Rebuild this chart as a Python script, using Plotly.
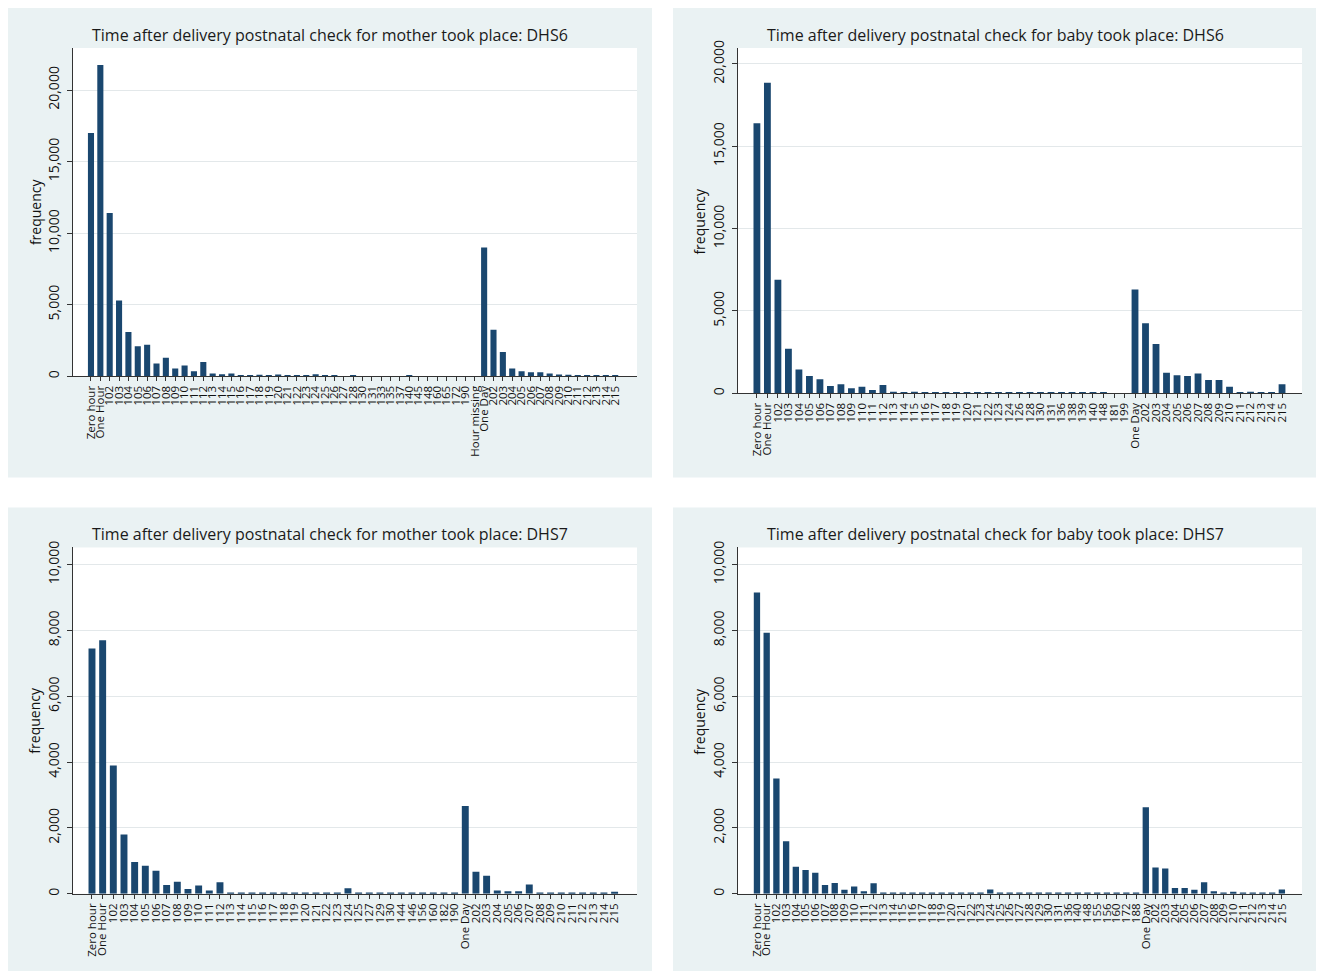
import plotly.graph_objects as go

W, H = 1317, 973

# ---------------- data ----------------
titles = [
    "Time after delivery postnatal check for mother took place: DHS6",
    "Time after delivery postnatal check for baby took place: DHS6",
    "Time after delivery postnatal check for mother took place: DHS7",
    "Time after delivery postnatal check for baby took place: DHS7",
]
y_title = "frequency"

mother_dhs6_labels = ["Zero hour", "One Hour",
    "102", "103", "104", "105", "106", "107", "108", "109", "110", "111", "112",
    "113", "114", "115", "116", "117", "118", "119", "120", "121", "122", "123",
    "124", "125", "126", "127", "128", "130", "131", "133", "135", "137", "140",
    "145", "148", "160", "165", "172", "190", "Hour missing", "One Day",
    "202", "203", "204", "205", "206", "207", "208", "209", "210", "211", "212",
    "213", "214", "215"]
mother_dhs6_freq = [17000, 21750,
    11400, 5300, 3100, 2100, 2200, 900, 1300, 550, 750, 350, 1000,
    200, 150, 200, 80, 50, 100, 50, 120, 40, 50, 50,
    150, 30, 30, 20, 30, 20, 20, 20, 20, 20, 30,
    20, 20, 20, 20, 20, 20, 20, 9000,
    3250, 1700, 550, 350, 280, 280, 200, 120, 100, 50, 40,
    30, 30, 80]

baby_dhs6_labels = ["Zero hour", "One Hour",
    "102", "103", "104", "105", "106", "107", "108", "109", "110", "111", "112",
    "113", "114", "115", "116", "117", "118", "119", "120", "121", "122", "123",
    "124", "126", "128", "130", "131", "136", "138", "139", "140", "148", "181",
    "199", "One Day",
    "202", "203", "204", "205", "206", "207", "208", "209", "210", "211", "212",
    "213", "214", "215"]
baby_dhs6_freq = [16400, 18850,
    6900, 2700, 1450, 1050, 850, 450, 550, 300, 400, 200, 500,
    100, 80, 100, 50, 40, 40, 40, 50, 30, 30, 30,
    70, 30, 30, 30, 30, 30, 30, 30, 30, 30, 20,
    20, 6300,
    4250, 3000, 1250, 1100, 1050, 1200, 800, 800, 400, 50, 100,
    50, 80, 550]

mother_dhs7_labels = ["Zero hour", "One Hour",
    "102", "103", "104", "105", "106", "107", "108", "109", "110", "111", "112",
    "113", "114", "115", "116", "117", "118", "119", "120", "121", "122", "123",
    "124", "125", "127", "129", "130", "144", "146", "156", "160", "182", "190",
    "One Day",
    "202", "203", "204", "205", "206", "207", "208", "209", "210", "211", "212",
    "213", "214", "215"]
mother_dhs7_freq = [7450, 7700,
    3900, 1800, 970, 850, 700, 270, 370, 150, 250, 100, 350,
    30, 30, 30, 20, 20, 20, 20, 20, 30, 20, 20,
    170, 20, 20, 20, 40, 20, 20, 20, 20, 20, 20,
    2670,
    670, 550, 100, 80, 80, 280, 40, 20, 30, 20, 20,
    20, 20, 60]

baby_dhs7_labels = ["Zero hour", "One Hour",
    "102", "103", "104", "105", "106", "107", "108", "109", "110", "111", "112",
    "113", "114", "115", "116", "117", "118", "119", "120", "121", "122", "123",
    "124", "125", "126", "127", "128", "129", "130", "131", "136", "140", "148",
    "155", "156", "160", "172", "188", "One Day",
    "202", "203", "204", "205", "206", "207", "208", "209", "210", "211", "212",
    "213", "214", "215"]
baby_dhs7_freq = [9150, 7930,
    3500, 1600, 820, 720, 640, 270, 330, 120, 220, 80, 320,
    30, 30, 30, 20, 20, 20, 20, 20, 20, 20, 20,
    130, 20, 20, 20, 20, 20, 20, 40, 20, 20, 20,
    20, 20, 20, 20, 20, 2630,
    800, 770, 180, 180, 120, 350, 80, 20, 60, 20, 20,
    20, 20, 130]

panels_labels = [mother_dhs6_labels, baby_dhs6_labels, mother_dhs7_labels, baby_dhs7_labels]
panels_freq = [mother_dhs6_freq, baby_dhs6_freq, mother_dhs7_freq, baby_dhs7_freq]
for a, b in zip(panels_labels, panels_freq):
    assert len(a) == len(b), (len(a), len(b))

y_ticks = [[0, 5000, 10000, 15000, 20000], [0, 5000, 10000, 15000, 20000],
           [0, 2000, 4000, 6000, 8000, 10000], [0, 2000, 4000, 6000, 8000, 10000]]
y_max = [22940, 20970, 10520, 10520]

# ---------------- layout (pixel geometry, target screen px) ----------------
outer = [(8, 8, 652, 477), (673, 8, 1316, 477), (8, 507, 652, 972), (673, 507, 1316, 972)]
plot = [(73, 48, 637, 376), (738, 48, 1302, 393), (73, 547, 637, 893), (738, 547, 1302, 893)]
x_rng = [(-1.92, 58.33), (-1.8, 51.9), (-1.78, 51.1), (-1.95, 56.07)]
title_pos = [(330, 35), (995, 35), (330, 534), (995, 534)]
ytitle_x = [35, 700, 35, 700]

# compensation for observed vertical page offset/scale in the capture
def fx(X):
    return min(max(X, 0), W)

def fy(Y):
    return min(max((Y - 8.1) / 0.9887, 0), H)

BAR = "#1a476f"
BG = "#eaf2f3"
FONT = "Open Sans"

fig = go.Figure()
shapes = []
annotations = []
layout_axes = {}

for i in range(4):
    n = "" if i == 0 else str(i + 1)
    fig.add_trace(go.Bar(
        x=panels_labels[i], y=panels_freq[i],
        marker=dict(color=BAR, line=dict(width=0)),
        xaxis="x" + n, yaxis="y" + n, showlegend=False,
        hovertemplate="%{x}: %{y:,}<extra></extra>",
    ))
    px0, py0, px1, py1 = plot[i]
    x0, x1, y0, y1 = fx(px0), fx(px1), fy(py0), fy(py1)
    layout_axes["xaxis" + n] = dict(
        domain=[x0 / W, x1 / W], anchor="y" + n,
        type="category", range=list(x_rng[i]),
        tickmode="array", tickvals=panels_labels[i], ticktext=panels_labels[i],
        tickangle=-90, tickfont=dict(family=FONT, size=11.5, color="#111"),
        ticks="outside", ticklen=4, tickcolor="#333",
        showline=True, linecolor="#333", linewidth=1,
        showgrid=False, zeroline=False, fixedrange=True,
    )
    layout_axes["yaxis" + n] = dict(
        domain=[1 - y1 / H, 1 - y0 / H], anchor="x" + n,
        range=[0, y_max[i]],
        tickvals=y_ticks[i], tickformat=",",
        tickangle=-90, tickfont=dict(family=FONT, size=14, color="#111"),
        ticks="outside", ticklen=5, tickcolor="#333", ticklabelstandoff=2,
        showline=True, linecolor="#333", linewidth=1,
        showgrid=True, gridcolor="#e3e8ea", gridwidth=1,
        zeroline=False, fixedrange=True,
    )
    ox0, oy0, ox1, oy1 = outer[i]
    ox0, ox1, oy0, oy1 = fx(ox0), fx(ox1), fy(oy0), fy(oy1)
    shapes.append(dict(type="rect", xref="paper", yref="paper", layer="below",
                       x0=ox0 / W, x1=ox1 / W, y0=1 - oy1 / H, y1=1 - oy0 / H,
                       fillcolor=BG, line=dict(width=0)))
    shapes.append(dict(type="rect", xref="paper", yref="paper", layer="below",
                       x0=x0 / W, x1=x1 / W, y0=1 - y1 / H, y1=1 - y0 / H,
                       fillcolor="white", line=dict(width=0)))
    tx, ty = title_pos[i]
    annotations.append(dict(text=titles[i], xref="paper", yref="paper",
                            x=fx(tx) / W, y=1 - fy(ty) / H,
                            xanchor="center", yanchor="middle",
                            showarrow=False,
                            font=dict(family=FONT, size=16, color="#1a1a1a")))
    # y-axis title
    annotations.append(dict(text=y_title, xref="paper", yref="paper",
                            x=fx(ytitle_x[i]) / W, y=1 - fy((py0 + py1) / 2) / H,
                            xanchor="center", yanchor="middle", textangle=-90,
                            showarrow=False,
                            font=dict(family=FONT, size=14, color="#111")))

fig.update_layout(
    width=W, height=H,
    margin=dict(l=0, r=0, t=0, b=0),
    paper_bgcolor="white", plot_bgcolor="rgba(0,0,0,0)",
    bargap=0.35,
    shapes=shapes, annotations=annotations,
    **layout_axes,
)

fig.write_html(
    "out.html",
    config={"displayModeBar": False},
    post_script=(
        "document.documentElement.style.margin='0';"
        "document.body.style.margin='0';document.body.style.padding='0';"
        "document.body.style.overflow='hidden';"
        "document.documentElement.style.overflow='hidden';"
        "var d=document.getElementById('{plot_id}');"
        "d.style.position='fixed';d.style.top='0px';d.style.left='0px';"
    ),
)
